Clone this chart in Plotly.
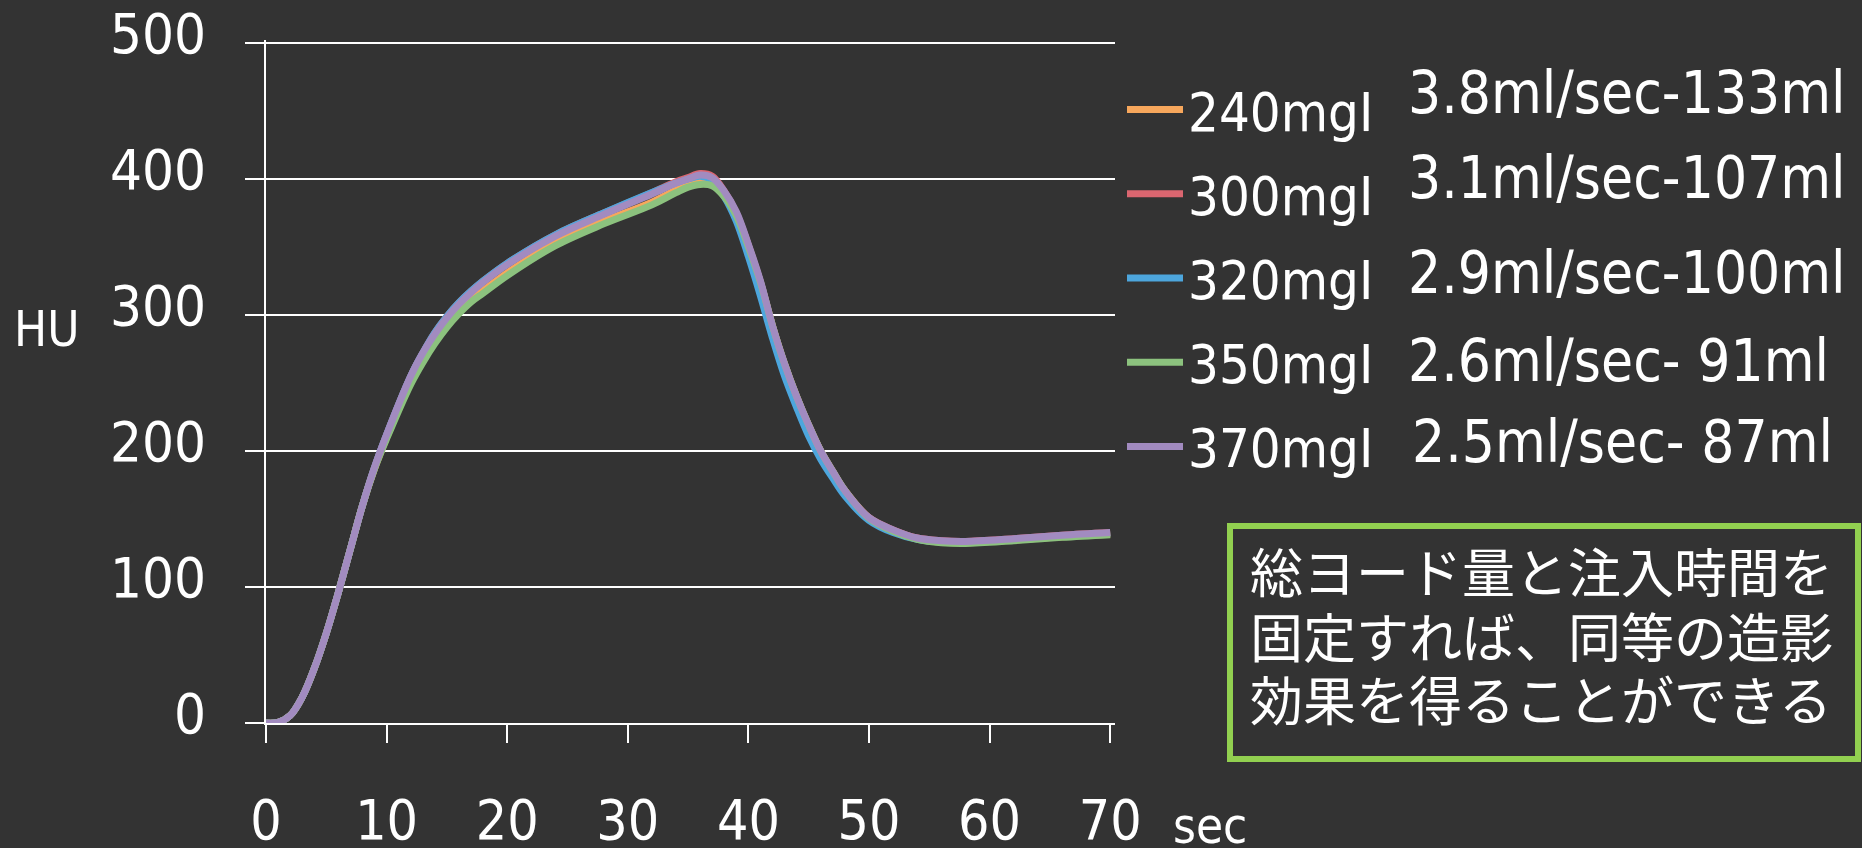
import plotly.graph_objects as go

# Time after injection start (sec)
time_s = [0, 1, 2, 3, 4, 5, 6, 7, 8, 9, 10, 12, 13, 14, 15, 16, 17, 18, 20, 24, 28,
          32, 34, 35, 36, 37, 38, 39, 40, 41, 42, 43, 44, 45, 46, 47, 48, 50, 52,
          54, 56, 58, 62, 66, 70]

# Enhancement (HU) per iodine concentration
hu_240 = [0, 0.5, 5.5, 19, 40, 66, 96, 128, 160, 187, 210, 251, 267, 281, 293, 303,
          311.5, 318, 331, 353, 369, 383, 392, 396, 398, 397, 388, 374, 351, 324, 292,
          264, 240, 219, 200, 185, 171, 151, 141.5, 135.5, 133, 132.5, 134.5, 137, 139]
hu_300 = [0, 0.5, 5.5, 19, 40, 66, 96, 128, 160, 188, 212, 255, 272, 287, 299, 309,
          317.5, 325, 338, 359, 375, 390, 398, 401, 404, 402, 391, 375, 351, 323, 290,
          262, 238, 217, 199, 184, 170, 151, 142, 136, 134, 133.5, 135.5, 138, 140]
hu_320 = [0, 0.5, 5.5, 19, 40, 66, 96, 128, 160, 188, 212, 255, 272, 287, 299, 309,
          317.5, 325, 338, 359, 375, 390, 397, 400, 402, 399, 387, 369, 343, 314, 283,
          255, 232, 211, 194, 180, 167, 149, 140, 135, 133, 133, 135, 137.5, 139.5]
hu_350 = [0, 0.5, 5.5, 19, 40, 66, 96, 128, 160, 187, 209, 249, 265, 279, 291, 301,
          309.5, 316, 329, 351, 367, 381, 390, 394, 396, 395, 387, 373, 350, 324, 292,
          264, 240, 219, 200, 185, 171, 150.5, 141, 135, 132.5, 132, 134, 136.5, 138.5]
hu_370 = [0, 0.5, 5.5, 19, 40, 66, 96, 128, 160, 188, 212, 255, 272, 286, 298, 308,
          316.5, 324, 337, 358, 374, 389, 397, 400, 403, 401, 391, 376, 352, 325, 292,
          264, 240, 219, 200, 185, 171, 151, 142, 136, 134, 133.5, 135.5, 138, 140]

series_names = ["240mgI", "300mgI", "320mgI", "350mgI", "370mgI"]
series_values = [hu_240, hu_300, hu_320, hu_350, hu_370]
series_colors = ["#F7A75C", "#DB6670", "#4DA6DD", "#8CC27E", "#A28BC0"]

injection_labels = ["3.8ml/sec-133ml", "3.1ml/sec-107ml", "2.9ml/sec-100ml",
                    "2.6ml/sec- 91ml", "2.5ml/sec- 87ml"]

x_ticks = [0, 10, 20, 30, 40, 50, 60, 70]
y_ticks = [0, 100, 200, 300, 400, 500]

note_lines = ["総ヨード量と注入時間を", "固定すれば、同等の造影", "効果を得ることができる"]

# ---- page geometry (pixels) ----
W, H = 1862, 848
PL, PR, PT, PB = 266, 1115, 40, 723
Y_TOP = (PB - PT) / 1.36  # 1.36 px per HU, leaves room for the 500 gridline


def px(x):
    return (x - PL) / (PR - PL)


def py(y):
    return (PB - y) / (PB - PT)


BG = "#333333"
FG = "#FFFFFF"
LATIN = "DejaVu Sans Condensed, DejaVu Sans, sans-serif"
CJK = "Noto Sans CJK JP"

fig = go.Figure()
for name, vals, col in zip(series_names, series_values, series_colors):
    fig.add_trace(go.Scatter(
        x=time_s, y=vals, name=name, mode="lines", legendgroup=name,
        line=dict(color=col, width=7, shape="spline", smoothing=1.0),
    ))

annotations = []
# injection protocol next to each legend entry
label_y = [97, 182, 277, 365, 446]
label_x = [1406, 1406, 1406, 1406, 1410]
for txt, xx, yy in zip(injection_labels, label_x, label_y):
    annotations.append(dict(
        text=txt, xref="paper", yref="paper", x=px(xx), y=py(yy - 4),
        xanchor="left", yanchor="middle", showarrow=False,
        font=dict(family=LATIN, size=58, color=FG)))

# axis captions
annotations.append(dict(text="HU", xref="paper", yref="paper", x=px(12), y=py(330),
                        xanchor="left", yanchor="middle", showarrow=False,
                        font=dict(family=LATIN, size=49, color=FG)))
annotations.append(dict(text="sec", xref="paper", yref="paper", x=px(1171), y=py(826),
                        xanchor="left", yanchor="middle", showarrow=False,
                        font=dict(family=LATIN, size=49, color=FG)))

# note in the green box
for txt, yy in zip(note_lines, [570, 635, 698]):
    annotations.append(dict(text=txt, xref="paper", yref="paper", x=px(1248), y=py(yy),
                            xanchor="left", yanchor="middle", showarrow=False,
                            font=dict(family=CJK, size=53, color=FG)))

shapes = [dict(type="rect", xref="paper", yref="paper",
               x0=px(1230), x1=px(1858), y0=py(759), y1=py(526),
               line=dict(color="#92D050", width=6), fillcolor="rgba(0,0,0,0)")]

fig.update_layout(
    width=W, height=H,
    margin=dict(l=PL, r=W - PR, t=PT, b=H - PB, autoexpand=False),
    paper_bgcolor=BG, plot_bgcolor=BG,
    font=dict(family=LATIN, color=FG),
    showlegend=True,
    legend=dict(
        xref="container", yref="container", x=1122 / W, y=1 - 68 / H,
        xanchor="left", yanchor="top",
        bgcolor="rgba(0,0,0,0)", font=dict(family=LATIN, size=54, color=FG),
        tracegroupgap=11, itemwidth=56, traceorder="grouped",
    ),
    xaxis=dict(
        range=[0, 70.4], tickmode="array", tickvals=x_ticks,
        ticktext=[str(v) for v in x_ticks],
        showgrid=False, zeroline=False, showline=True, linecolor=FG, linewidth=1.5,
        ticks="outside", ticklen=18, tickwidth=1.5, tickcolor=FG,
        tickfont=dict(family=LATIN, size=55, color=FG), ticklabelstandoff=30,
    ),
    yaxis=dict(
        range=[0, Y_TOP], tickmode="array", tickvals=y_ticks,
        ticktext=[str(v) for v in y_ticks],
        showgrid=True, gridcolor=FG, gridwidth=1.5, zeroline=False,
        showline=True, linecolor=FG, linewidth=1.5,
        ticks="outside", ticklen=19, tickwidth=1.5, tickcolor=FG,
        tickfont=dict(family=LATIN, size=56, color=FG),
        ticklabelstandoff=28, ticklabelshift=-10,
    ),
    annotations=annotations,
    shapes=shapes,
)

fig.write_html("out.html")
